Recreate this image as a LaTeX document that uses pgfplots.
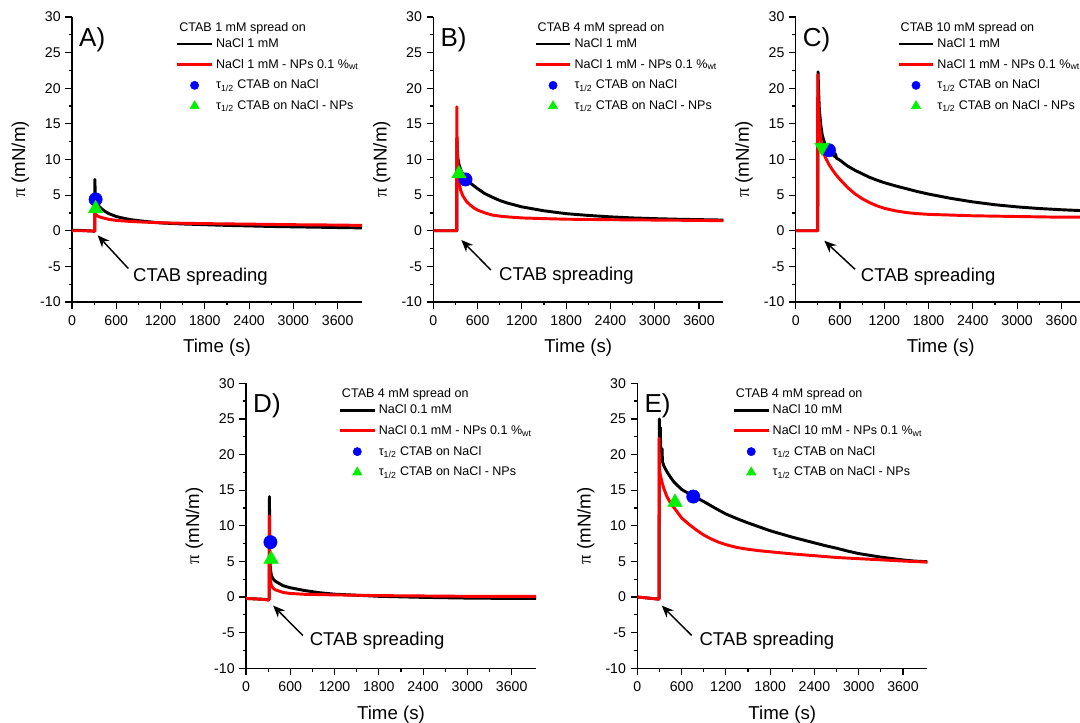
\documentclass[border=0pt]{standalone}
\usepackage{pgfplots}
\pgfplotsset{compat=1.18}
\usepackage{fontspec}
\setmainfont{Liberation Sans}
\newfontfamily\serif{Liberation Serif}
\usetikzlibrary{arrows.meta}
\definecolor{cred}{RGB}{255,0,0}
\definecolor{cblue}{RGB}{0,0,255}
\definecolor{cgreen}{RGB}{0,240,0}
\pgfplotsset{
 panel/.style={
  width=217.5pt, height=213.75pt, scale only axis,
  xmin=0, xmax=3930, ymin=-10, ymax=30,
  axis x line*=bottom, axis y line*=left,
  xtick={0,600,...,3600}, ytick={-10,-5,...,30},
  minor tick num=1, tick align=outside,
  major tick length=5pt, minor tick length=2.5pt,
  every tick/.style={black, line width=0.9pt},
  axis line style={line width=1pt},
  /pgf/number format/assume math mode=true,
  /pgf/number format/1000 sep={},
  tick label style={font=\fontsize{10.6}{12}\selectfont},
  x tick label style={yshift=-1.5pt},
  label style={font=\fontsize{14}{16}\selectfont},
  xlabel style={yshift=-3.5pt},
  ylabel style={yshift=1.5pt},
  xlabel={Time (s)}, ylabel={{\serif π} (mN/m)},
  clip=false,
  legend cell align=left,
  legend style={draw=none, fill=none, inner sep=0pt, row sep=3.2pt,
    font=\fontsize{9.4}{10.5}\selectfont, anchor=north west,
    /tikz/every even column/.append style={column sep=1pt}},
 },
 lineleg/.style={legend image code/.code={\draw[##1] (0pt,0pt)--(26pt,0pt);}},
 markleg/.style={legend image code/.code={\draw[##1] plot coordinates {(13pt,0pt)};}},
 blk/.style={black, line width=2.2pt, forget plot, line join=round},
 rd/.style={cred, line width=2.2pt, forget plot, line join=round},
 bluemk/.style={only marks, mark=*, mark size=5pt, cblue, forget plot},
 greenmk/.style={only marks, mark=triangle*, mark size=6.2pt, cgreen, forget plot},
}
\newcommand\mylegend[2]{%
 \addlegendimage{lineleg,black,line width=2.2pt}
 \addlegendentry{#1}
 \addlegendimage{lineleg,cred,line width=2.2pt}
 \addlegendentry{#2}
 \addlegendimage{markleg,only marks,mark=*,mark size=3.1pt,cblue}
 \addlegendentry{τ\textsubscript{1/2} CTAB on NaCl}
 \addlegendimage{markleg,only marks,mark=triangle*,mark size=4pt,cgreen}
 \addlegendentry{τ\textsubscript{1/2} CTAB on NaCl - NPs}
}
\newcommand\annot[7]{% tailx taily headx heady textx texty panel
 \draw[line width=1.1pt,-{Stealth[length=9pt,width=7.5pt]}] (axis cs:#1,#2) -- (axis cs:#3,#4);
 \node[anchor=west,inner sep=0pt,font=\fontsize{13.9}{16}\selectfont] at (axis cs:#5,#6) {CTAB spreading};
 \node[anchor=base west,inner sep=0pt,font=\fontsize{19.5}{21}\selectfont] at (rel axis cs:0.024,0.896) {#7};
}
\newcommand\legtitle[2]{%
 \node[anchor=base west,inner sep=0pt,font=\fontsize{9.4}{10.5}\selectfont] at (rel axis cs:#1,0.95) {#2};
}
\begin{document}
\begin{tikzpicture}
\useasboundingbox (0,0) rectangle (810pt,541.5pt);
% ---------------- A
\begin{axis}[panel, at={(54pt,315pt)}, anchor=south west,
  legend style={at={(rel axis cs:0.357,0.935)}}]
\addplot[blk] coordinates {(0,0.05)(100,0.05)(200,0.0)(300,-0.05)(308,-0.05)(310,7.2)(314,5.5)(320,4.6)(330,4.0)(350,3.6)(400,3.1)(450,2.7)(500,2.4)(600,2.0)(700,1.75)(800,1.55)(900,1.42)(1000,1.3)(1200,1.1)(1500,0.95)(1800,0.85)(2100,0.75)(2400,0.68)(2700,0.6)(3000,0.55)(3300,0.5)(3600,0.45)(3930,0.4)};
\addplot[rd] coordinates {(0,0)(100,0)(200,0)(300,-0.05)(310,-0.05)(312,4.9)(316,2.4)(330,2.2)(360,2.0)(400,1.85)(500,1.6)(600,1.45)(800,1.3)(1000,1.2)(1200,1.12)(1500,1.05)(1800,1.0)(2400,0.93)(3000,0.85)(3600,0.8)(3930,0.75)};
\addplot[bluemk] coordinates {(320,4.4)};
\addplot[greenmk] coordinates {(320,3.1)};
\mylegend{NaCl 1 mM}{NaCl 1 mM - NPs 0.1 \%\textsubscript{wt}}
\legtitle{0.369}{CTAB 1 mM spread on}
\annot{763}{-5.3}{348}{-0.65}{826}{-6.45}{A)}
\end{axis}
% ---------------- B
\begin{axis}[panel, at={(325pt,315pt)}, anchor=south west,
  legend style={at={(rel axis cs:0.347,0.935)}}]
\addplot[blk] coordinates {(0,0)(300,0)(318,0)(320,13)(325,11)(335,10)(350,9.2)(380,8.3)(420,7.6)(500,6.7)(600,5.9)(700,5.2)(800,4.7)(900,4.25)(1000,3.9)(1200,3.35)(1500,2.8)(1800,2.4)(2100,2.15)(2400,1.95)(2700,1.8)(3000,1.7)(3300,1.62)(3600,1.56)(3930,1.5)};
\addplot[rd] coordinates {(0,0)(300,0)(316,0)(318,17.4)(322,12)(330,9)(345,7)(370,5.7)(400,4.9)(450,4.1)(500,3.6)(550,3.2)(600,2.9)(700,2.5)(800,2.2)(900,2.05)(1000,1.95)(1200,1.8)(1500,1.7)(1800,1.62)(2400,1.55)(3000,1.5)(3600,1.45)(3930,1.4)};
\addplot[bluemk] coordinates {(436,7.2)};
\addplot[greenmk] coordinates {(347,8.0)};
\mylegend{NaCl 1 mM}{NaCl 1 mM - NPs 0.1 \%\textsubscript{wt}}
\legtitle{0.359}{CTAB 4 mM spread on}
\annot{779}{-5.5}{379}{-1.3}{889}{-6.35}{B)}
\end{axis}
% ---------------- C
\begin{axis}[panel, at={(596.8pt,315pt)}, anchor=south west,
  legend style={at={(rel axis cs:0.349,0.935)}}]
\addplot[blk] coordinates {(0,0)(290,0)(298,0)(302,22.3)(310,19.5)(320,17)(340,14.8)(360,13.4)(400,12.0)(450,11.2)(500,10.7)(530,10.4)(540,10.8)(550,10.2)(600,9.9)(700,9.1)(800,8.5)(900,8.0)(1000,7.5)(1100,7.1)(1200,6.75)(1350,6.3)(1500,5.9)(1650,5.5)(1800,5.15)(1950,4.85)(2100,4.55)(2250,4.3)(2400,4.05)(2700,3.65)(3000,3.35)(3300,3.12)(3600,2.95)(3930,2.8)};
\addplot[rd] coordinates {(0,0)(290,0)(296,0)(298,21.9)(305,18)(320,15)(340,12.8)(360,11.5)(400,10.3)(450,9.3)(500,8.5)(550,7.8)(600,7.2)(700,6.1)(800,5.2)(900,4.5)(1000,3.95)(1100,3.5)(1200,3.15)(1350,2.8)(1500,2.55)(1650,2.4)(1800,2.3)(2100,2.2)(2400,2.1)(3000,2.0)(3600,1.9)(3930,1.9)};
\addplot[bluemk] coordinates {(450,11.3)};
\addplot[greenmk, mark options={rotate=180}] coordinates {(356,11.7)};
\mylegend{NaCl 1 mM}{NaCl 1 mM - NPs 0.1 \%\textsubscript{wt}}
\legtitle{0.361}{CTAB 10 mM spread on}
\annot{803}{-5.4}{387}{-1.4}{880}{-6.4}{C)}
\end{axis}
% ---------------- D
\begin{axis}[panel, at={(184.5pt,40.3pt)}, anchor=south west,
  legend style={at={(rel axis cs:0.318,0.935)}}]
\addplot[blk] coordinates {(0,-0.2)(100,-0.25)(200,-0.3)(280,-0.35)(300,-0.4)(315,-0.3)(318,14.1)(322,6)(330,4.0)(345,3.0)(370,2.5)(400,2.2)(500,1.6)(600,1.3)(800,0.9)(1000,0.6)(1200,0.4)(1500,0.25)(1800,0.1)(2400,-0.05)(3000,-0.15)(3600,-0.2)(3930,-0.2)};
\addplot[rd] coordinates {(0,-0.2)(100,-0.25)(200,-0.3)(280,-0.4)(300,-0.45)(313,-0.3)(316,11.4)(320,4)(330,2.3)(345,1.6)(370,1.2)(400,1.0)(500,0.65)(600,0.5)(800,0.38)(1200,0.3)(1800,0.2)(2400,0.15)(3000,0.1)(3600,0.1)(3930,0.1)};
\addplot[bluemk] coordinates {(331,7.7)};
\addplot[greenmk] coordinates {(340,5.3)};
\mylegend{NaCl 0.1 mM}{NaCl 0.1 mM - NPs 0.1 \%\textsubscript{wt}}
\legtitle{0.33}{CTAB 4 mM spread on}
\annot{771}{-5.4}{367}{-1.2}{861}{-6.2}{D)}
\end{axis}
% ---------------- E
\begin{axis}[panel, at={(478pt,40.3pt)}, anchor=south west,
  legend style={at={(rel axis cs:0.327,0.935)}}]
\addplot[blk] coordinates {(0,0)(100,-0.1)(200,-0.2)(290,-0.3)(295,-0.3)(298,25)(305,19.5)(312,23.8)(318,19.5)(325,20.5)(335,20.8)(340,19.0)(360,18.4)(400,17.6)(450,16.8)(500,16.1)(600,15.1)(750,14.2)(900,13.4)(1050,12.5)(1200,11.65)(1350,11.0)(1500,10.4)(1650,9.85)(1800,9.3)(1950,8.85)(2100,8.4)(2250,8.0)(2400,7.6)(2550,7.2)(2700,6.85)(2850,6.45)(3000,6.1)(3150,5.85)(3300,5.6)(3450,5.4)(3600,5.2)(3750,5.05)(3930,4.95)};
\addplot[rd] coordinates {(0,0)(100,-0.1)(200,-0.2)(290,-0.3)(293,-0.3)(295,22.3)(300,18)(310,17.2)(330,16.3)(360,15.2)(400,14.1)(450,13.2)(500,12.5)(600,11.1)(700,10.2)(800,9.4)(900,8.7)(1000,8.15)(1100,7.7)(1200,7.35)(1350,6.95)(1500,6.7)(1650,6.5)(1800,6.35)(2100,6.05)(2400,5.8)(2700,5.55)(3000,5.38)(3300,5.22)(3600,5.05)(3930,4.9)};
\addplot[bluemk] coordinates {(758,14.1)};
\addplot[greenmk] coordinates {(510,13.3)};
\mylegend{NaCl 10 mM}{NaCl 10 mM - NPs 0.1 \%\textsubscript{wt}}
\legtitle{0.339}{CTAB 4 mM spread on}
\annot{737}{-5.4}{330}{-1.2}{840}{-6.2}{E)}
\end{axis}
\end{tikzpicture}
\end{document}
